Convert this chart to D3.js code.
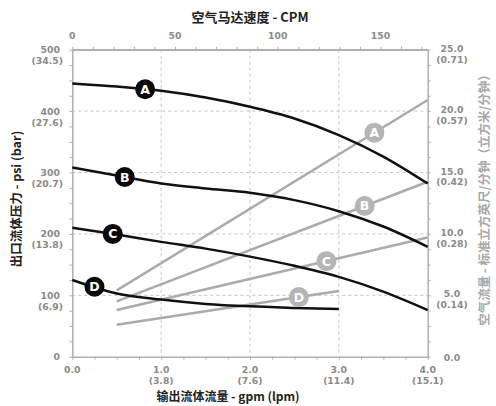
<!DOCTYPE html>
<html><head><meta charset="utf-8">
<script src="https://cdn.jsdelivr.net/npm/d3@7"></script>
<style>body{margin:0;background:#fff}svg{display:block}</style>
</head><body><svg id="c" width="496" height="406"></svg>
<script>
// ---- data ----
const flowTicks = [0, 1, 2, 3, 4];
const flowLabels = ["0.0", "1.0", "2.0", "3.0", "4.0"];
const flowLpm = ["", "(3.8)", "(7.6)", "(11.4)", "(15.1)"];
const psiTicks = [0, 100, 200, 300, 400, 500];
const barLabels = ["", "(6.9)", "(13.8)", "(20.7)", "(27.6)", "(34.5)"];
const scfmTicks = [0, 5, 10, 15, 20, 25];
const scfmLabels = ["0.0", "5.0", "10.0", "15.0", "20.0", "25.0"];
const cmmLabels = ["", "(0.14)", "(0.28)", "(0.42)", "(0.57)", "(0.71)"];
const cpmTicks = [0, 50, 100, 150];

const pressureFlow = [0, 0.5, 1, 1.5, 2, 2.5, 3, 3.5, 4];
const pressureA = [445, 440, 433, 422, 407, 388, 361, 326, 282];
const pressureB = [308, 295, 282, 274, 267, 255, 237, 212, 179];
const pressureC = [210, 199, 187, 176, 163, 148, 130, 106, 76];
const flowD = [0, 0.5, 1, 1.5, 2, 2.5, 3];
const pressureD = [125, 103, 93, 86, 82, 79.5, 77.5];

const airFlowA = [[0.5, 5.4], [4.0, 20.9]];
const airFlowB = [[0.5, 4.5], [4.0, 14.25]];
const airFlowC = [[0.5, 3.8], [4.0, 9.7]];
const airFlowD = [[0.5, 2.6], [3.0, 5.35]];

const curveNames = ["A", "B", "C", "D"];
const curveLabelFlow = [0.82, 0.59, 0.455, 0.25];
const airLabelFlow = [3.4, 3.29, 2.86, 2.55];

// ---- setup ----
const svg = d3.select("#c");
const L = 72.3, R = 427.7, T = 49.7, B = 356.7;
const x = d3.scaleLinear().domain([0, 4]).range([L, R]);
const y = d3.scaleLinear().domain([0, 500]).range([B, T]);
const yr = d3.scaleLinear().domain([0, 25]).range([B, T]);
const xt = d3.scaleLinear().domain([0, 173]).range([L, R]);
const font = "'DejaVu Sans', Verdana, sans-serif";
const tickCol = "#8a8a8a", axisCol = "#b0b0b0";

// grid
const grid = svg.append("g").attr("stroke", "#c4c4c4").attr("stroke-dasharray", "3,3").attr("stroke-width", 1);
[100, 200, 300, 400].forEach(v => grid.append("line").attr("x1", L).attr("x2", R).attr("y1", y(v)).attr("y2", y(v)));
[1, 2, 3].forEach(v => grid.append("line").attr("y1", T).attr("y2", B).attr("x1", x(v)).attr("x2", x(v)));

// axes (minor ticks)
function styleAxis(g) {
  g.select(".domain").attr("stroke", axisCol).attr("stroke-width", 1.5);
  g.selectAll(".tick line").attr("stroke", axisCol);
  g.selectAll(".tick text").remove();
}
svg.append("g").attr("transform", `translate(${L},0)`)
  .call(d3.axisLeft(y).tickValues(d3.range(0, 501, 25)).tickSize(3).tickSizeOuter(0)).call(styleAxis);
svg.append("g").attr("transform", `translate(${R},0)`)
  .call(d3.axisRight(yr).tickValues(d3.range(0, 25.01, 1.25)).tickSize(3).tickSizeOuter(0)).call(styleAxis);
svg.append("g").attr("transform", `translate(0,${B})`)
  .call(d3.axisBottom(x).tickValues(d3.range(0, 4.01, 0.25)).tickSize(3).tickSizeOuter(0)).call(styleAxis);
svg.append("g").attr("transform", `translate(0,${T})`)
  .call(d3.axisTop(xt).tickValues(d3.range(0, 171, 10)).tickSize(3).tickSizeOuter(0)).call(styleAxis);
svg.append("line").attr("x1", L).attr("x2", R).attr("y1", T).attr("y2", T).attr("stroke", axisCol).attr("stroke-width", 1.5);

// tick labels
const lab = svg.append("g").attr("font-family", font).attr("font-size", 9.3).attr("font-weight", "bold").attr("fill", tickCol);
psiTicks.forEach((v, i) => {
  lab.append("text").attr("x", 60).attr("y", y(v) + 3.5).attr("text-anchor", "end").text(v);
  if (barLabels[i]) lab.append("text").attr("x", 63).attr("y", y(v) + 14.4).attr("text-anchor", "end").text(barLabels[i]);
});
scfmTicks.forEach((v, i) => {
  lab.append("text").attr("x", 452).attr("y", yr(v) + (i === 0 ? 4 : 2)).attr("text-anchor", "middle").text(scfmLabels[i]);
  if (cmmLabels[i]) lab.append("text").attr("x", 452).attr("y", yr(v) + 12.9).attr("text-anchor", "middle").text(cmmLabels[i]);
});
flowTicks.forEach((v, i) => {
  lab.append("text").attr("x", x(v)).attr("y", 373.4).attr("text-anchor", "middle").text(flowLabels[i]);
  if (flowLpm[i]) lab.append("text").attr("x", x(v)).attr("y", 384.3).attr("text-anchor", "middle").text(flowLpm[i]);
});
cpmTicks.forEach(v => {
  lab.append("text").attr("x", xt(v)).attr("y", 38.5).attr("text-anchor", "middle").text(v);
});

// titles
svg.append("text").attr("x", 250).attr("y", 22).attr("text-anchor", "middle")
  .attr("font-family", "'Noto Sans CJK SC', sans-serif").attr("font-size", 13).attr("font-weight", "bold").attr("fill", "#222")
  .text("空气马达速度 - CPM");
svg.append("text").attr("x", 228).attr("y", 401.3).attr("text-anchor", "middle")
  .attr("font-family", "'Noto Sans CJK SC', sans-serif").attr("font-size", 12).attr("font-weight", "bold").attr("fill", "#222")
  .text("输出流体流量 - gpm (lpm)");
svg.append("text").attr("transform", "translate(21,199) rotate(-90)").attr("text-anchor", "middle")
  .attr("font-family", "'Noto Sans CJK SC', sans-serif").attr("font-size", 12.5).attr("font-weight", "bold").attr("fill", "#222")
  .text("出口流体压力 - psi (bar)");
svg.append("text").attr("transform", "translate(489,197) rotate(-90)").attr("text-anchor", "middle")
  .attr("font-family", "'Noto Sans CJK SC', sans-serif").attr("font-size", 12.5).attr("font-weight", "bold").attr("fill", "#a8a8a8")
  .text("空气流量 - 标准立方英尺/分钟（立方米/分钟）");

// air flow lines (gray)
const airSets = [airFlowA, airFlowB, airFlowC, airFlowD];
const airLine = d3.line().x(d => x(d[0])).y(d => yr(d[1]));
airSets.forEach(s => svg.append("path").attr("d", airLine(s)).attr("fill", "none").attr("stroke", "#ababab").attr("stroke-width", 2.5));

// pressure curves (black)
const pSets = [
  pressureFlow.map((f, i) => [f, pressureA[i]]),
  pressureFlow.map((f, i) => [f, pressureB[i]]),
  pressureFlow.map((f, i) => [f, pressureC[i]]),
  flowD.map((f, i) => [f, pressureD[i]])
];
const pLine = d3.line().x(d => x(d[0])).y(d => y(d[1])).curve(d3.curveMonotoneX);
pSets.forEach(s => svg.append("path").attr("d", pLine(s)).attr("fill", "none").attr("stroke", "#111").attr("stroke-width", 2.5));

function interp(s, f) {
  const xs = s.map(d => d[0]), ys = s.map(d => d[1]);
  return d3.scaleLinear().domain(xs).range(ys)(f);
}
function badge(cx, cy, letter, fill) {
  svg.append("circle").attr("cx", cx).attr("cy", cy).attr("r", 10).attr("fill", fill);
  svg.append("text").attr("x", cx).attr("y", cy + 4.5).attr("text-anchor", "middle")
    .attr("font-family", font).attr("font-size", 12.5).attr("font-weight", "bold").attr("fill", "#fff").text(letter);
}
curveNames.forEach((n, i) => {
  const f = airLabelFlow[i];
  badge(x(f), yr(interp(airSets[i], f)), n, "#b5b5b5");
});
curveNames.forEach((n, i) => {
  const f = curveLabelFlow[i];
  badge(x(f), y(interp(pSets[i], f)), n, "#0a0a0a");
});
</script></body></html>
